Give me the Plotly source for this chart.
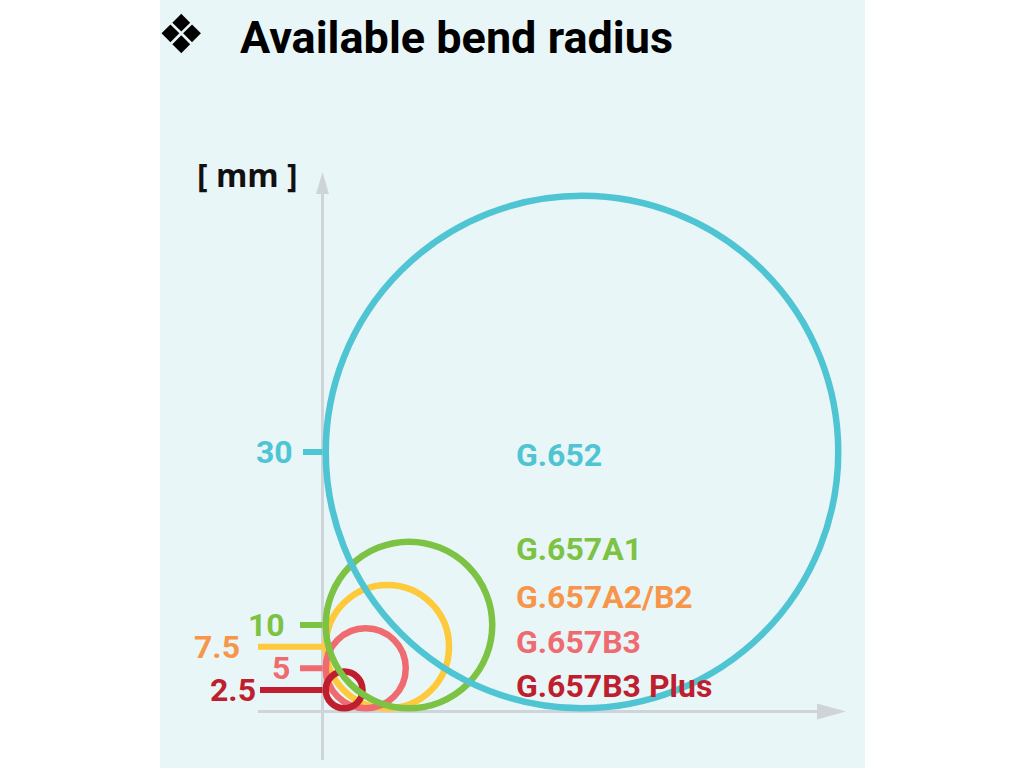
import plotly.graph_objects as go

# ---------------- data ----------------
series_names = ["G.652", "G.657A1", "G.657A2/B2", "G.657B3", "G.657B3 Plus"]
radii_mm = [30, 10, 7.5, 5, 2.5]
tick_labels = ["30", "10", "7.5", "5", "2.5"]

# ---------------- styles / layout ----------------
ring_colors = ["#4FC4D3", "#7CC243", "#FFC93C", "#F06B70", "#BE1E2D"]
label_colors = ["#4FC4D3", "#7CC243", "#F7964A", "#F06B70", "#BE1E2D"]
draw_order = [2, 3, 4, 1, 0]           # yellow, pink, dark red, green, cyan (top)
label_py = [455, 549, 597, 642, 686]   # pixel y of series labels
label_px = 514
tick_label_right_px = [295, 287, 242, 292, 258]
tick_line_start_px = [303, 300, 258, 300, 260]

W, H = 1024, 768
S = 8.65                 # pixels per mm
OX, OY = 322.5, 711.5    # pixel position of the origin
PL, PR = 160, 865        # background panel
LW = 6.5
AXIS = "#CFD4D8"
BG = "#E9F6F8"
FONT_NUM = "Roboto, sans-serif"


def dx(px):
    return (px - OX) / S


def dy(py):
    return (OY - py) / S


fig = go.Figure()
# invisible trace to establish axes
fig.add_trace(go.Scatter(x=[0], y=[0], mode="markers", marker=dict(opacity=0),
                         hoverinfo="skip", showlegend=False))

shapes = []
# axes
shapes.append(dict(type="line", xref="x", yref="y", x0=0, x1=0, y0=dy(760), y1=dy(192),
                   line=dict(color=AXIS, width=3), layer="below"))
shapes.append(dict(type="path", xref="x", yref="y",
                   path=f"M {dx(OX-6.5)},{dy(194)} L {dx(OX+6.5)},{dy(194)} L 0,{dy(172)} Z",
                   fillcolor=AXIS, line=dict(width=0), layer="below"))
shapes.append(dict(type="line", xref="x", yref="y", x0=dx(258), x1=dx(818), y0=0, y1=0,
                   line=dict(color=AXIS, width=3), layer="below"))
shapes.append(dict(type="path", xref="x", yref="y",
                   path=f"M {dx(817)},{dy(OY-8)} L {dx(817)},{dy(OY+8)} L {dx(846)},0 Z",
                   fillcolor=AXIS, line=dict(width=0), layer="below"))

# tick dashes
for i, r in enumerate(radii_mm):
    shapes.append(dict(type="line", xref="x", yref="y", x0=dx(tick_line_start_px[i]), x1=0,
                       y0=r, y1=r, line=dict(color=ring_colors[i], width=6), layer="above"))

# circles (tangent to both axes)
pad = (LW / 2) / S
for i in draw_order:
    r = radii_mm[i]
    shapes.append(dict(type="circle", xref="x", yref="y",
                       x0=pad, y0=pad, x1=2 * r - pad, y1=2 * r - pad,
                       line=dict(color=ring_colors[i], width=LW), layer="above"))

annotations = []
# tick labels
for i, r in enumerate(radii_mm):
    annotations.append(dict(x=dx(tick_label_right_px[i]), y=r, xref="x", yref="y",
                            text=tick_labels[i], showarrow=False, xanchor="right",
                            yanchor="middle",
                            font=dict(family=FONT_NUM, size=32, color=label_colors[i],
                                      weight="bold")))
# series labels
for i, name in enumerate(series_names):
    annotations.append(dict(x=dx(label_px), y=dy(label_py[i]), xref="x", yref="y",
                            text=name, showarrow=False, xanchor="left", yanchor="middle",
                            font=dict(family=FONT_NUM, size=32, color=label_colors[i],
                                      weight="bold")))
# unit label
annotations.append(dict(x=dx(247), y=dy(174), xref="x", yref="y", text="[ mm ]",
                        showarrow=False, xanchor="center", yanchor="middle",
                        font=dict(family="Open Sans, sans-serif", size=32, color="#111111",
                                  weight="bold")))
# title
annotations.append(dict(x=dx(181), y=dy(34), xref="x", yref="y", text="❖",
                        showarrow=False, xanchor="center", yanchor="middle",
                        font=dict(family="DejaVu Sans, sans-serif", size=54, color="#000000")))
annotations.append(dict(x=dx(238), y=dy(37), xref="x", yref="y",
                        text="Available bend radius",
                        showarrow=False, xanchor="left", yanchor="middle",
                        font=dict(family="Roboto, sans-serif", size=45, color="#000000",
                                  weight="bold")))

fig.update_layout(
    width=W, height=H,
    margin=dict(l=PL, r=W - PR, t=0, b=0),
    paper_bgcolor="white", plot_bgcolor=BG,
    xaxis=dict(range=[dx(PL), dx(PR)], visible=False, fixedrange=True),
    yaxis=dict(range=[dy(H), dy(0)], visible=False, fixedrange=True),
    shapes=shapes, annotations=annotations, showlegend=False,
)

fig.write_html("out.html", config={"displayModeBar": False},
               post_script="document.body.style.margin='0';")
